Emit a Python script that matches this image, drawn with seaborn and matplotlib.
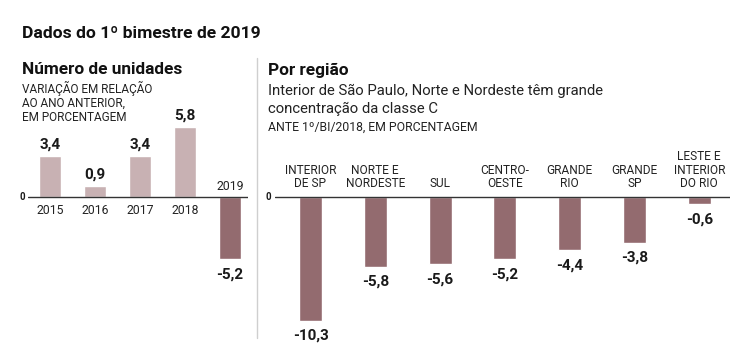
import matplotlib
matplotlib.use("Agg")
import matplotlib.pyplot as plt
import seaborn as sns
import pandas as pd

# ---------------- data ----------------
years = ["2015", "2016", "2017", "2018", "2019"]
year_values = [3.4, 0.9, 3.4, 5.8, -5.2]

regions = ["INTERIOR\nDE SP", "NORTE E\nNORDESTE", "SUL", "CENTRO-\nOESTE",
           "GRANDE\nRIO", "GRANDE\nSP", "LESTE E\nINTERIOR\nDO RIO"]
region_values = [-10.3, -5.8, -5.6, -5.2, -4.4, -3.8, -0.6]

title = "Dados do 1º bimestre de 2019"
left_title = "Número de unidades"
left_sub = "VARIAÇÃO EM RELAÇÃO\nAO ANO ANTERIOR,\nEM PORCENTAGEM"
right_title = "Por região"
right_desc = "Interior de São Paulo, Norte e Nordeste têm grande\nconcentração da classe C"
right_sub = "ANTE 1º/BI/2018, EM PORCENTAGEM"

LIGHT = "#c8b1b3"
DARK = "#936b6f"
INK = "#1a1a1a"

sns.set_theme(style="white")
plt.rcParams["font.family"] = ["Roboto", "DejaVu Sans"]
NARROW = ["Liberation Sans Narrow", "Roboto", "DejaVu Sans"]

W, H = 741, 348
fig = plt.figure(figsize=(W / 100, H / 100), dpi=100)

def fx(px):
    return px / W

def fy(py):
    return 1 - py / H

def fmt(v):
    return f"{v:.1f}".replace(".", ",")

# axes vertical extent (px)
ax_top, ax_bot = 100, 290
zero_px = 197
ppu = 12.0  # pixels per unit
ymax = (zero_px - ax_top) / ppu
ymin = -(ax_bot - zero_px) / ppu

VAL_FS = 11
# ---------------- left panel ----------------
lx0, lx1 = 28, 248
axL = fig.add_axes([fx(lx0), fy(ax_bot), fx(lx1 - lx0), (ax_bot - ax_top) / H])
dfL = pd.DataFrame({"year": years, "value": year_values})
dfL["color"] = [LIGHT if v >= 0 else DARK for v in year_values]
sns.barplot(data=dfL, x="year", y="value", hue="year",
            palette=dict(zip(dfL["year"], dfL["color"])),
            legend=False, ax=axL, width=0.49, saturation=1)
step = 45
axL.set_xlim((lx0 - 50) / step, (lx1 - 50) / step)
axL.set_ylim(ymin, ymax)
axL.axhline(0, color="#333333", lw=1.0)
for i, (y, v) in enumerate(zip(years, year_values)):
    if v >= 0:
        axL.annotate(fmt(v), (i, v), xytext=(0, 3.2), textcoords="offset points",
                     ha="center", va="bottom", fontsize=VAL_FS, fontweight="bold", color=INK)
        axL.annotate(y, (i, 0), xytext=(0, -5), textcoords="offset points",
                     ha="center", va="top", fontsize=8.8, color="#222222", family=NARROW)
    else:
        axL.annotate(fmt(v), (i, v), xytext=(0, -6), textcoords="offset points",
                     ha="center", va="top", fontsize=VAL_FS, fontweight="bold", color=INK)
        axL.annotate(y, (i, 0), xytext=(0, 3), textcoords="offset points",
                     ha="center", va="bottom", fontsize=8.8, color="#222222", family=NARROW)
axL.axis("off")
fig.text(fx(25), fy(zero_px), "0", ha="right", va="center", fontsize=7, fontweight="bold", color=INK)

# ---------------- right panel ----------------
rx0, rx1 = 275, 730
extra = 4
axR = fig.add_axes([fx(rx0), fy(ax_bot + extra * ppu), fx(rx1 - rx0),
                    (ax_bot + extra * ppu - ax_top) / H])
dfR = pd.DataFrame({"region": regions, "value": region_values})
sns.barplot(data=dfR, x="region", y="value", color=DARK, ax=axR,
            width=23 / 64.8, saturation=1)
rstep = 64.8
axR.set_xlim((rx0 - 310.5) / rstep, (rx1 - 310.5) / rstep)
axR.set_ylim(ymin - extra, ymax)
axR.axhline(0, color="#333333", lw=1.0)
for i, (r, v) in enumerate(zip(regions, region_values)):
    axR.annotate(fmt(v), (i, v), xytext=(0, -6), textcoords="offset points",
                 ha="center", va="top", fontsize=VAL_FS, fontweight="bold", color=INK)
    axR.annotate(r, (i, 0), xytext=(0, 5), textcoords="offset points",
                 ha="center", va="bottom", fontsize=8.6, color="#222222",
                 family=NARROW, linespacing=1.05)
axR.axis("off")
fig.text(fx(271), fy(zero_px), "0", ha="right", va="center", fontsize=7, fontweight="bold", color=INK)

# ---------------- separator ----------------
fig.add_artist(plt.Line2D([fx(257), fx(257)], [fy(58), fy(338)], color="#cfcfcf", lw=1.0))

# ---------------- texts ----------------
fig.text(fx(22), fy(33), title, ha="left", va="center", fontsize=12.6, fontweight="bold", color="#111111")
fig.text(fx(22), fy(70), left_title, ha="left", va="center", fontsize=12.4, fontweight="bold", color="#111111")
fig.text(fx(22), fy(81), left_sub, ha="left", va="top", fontsize=8.5, color="#222222",
         family=NARROW, linespacing=1.1)
fig.text(fx(268), fy(70), right_title, ha="left", va="center", fontsize=12.4, fontweight="bold", color="#111111")
fig.text(fx(268), fy(84), right_desc, ha="left", va="top", fontsize=10.7, color="#222222",
         linespacing=1.35)
fig.text(fx(268), fy(127), right_sub, ha="left", va="center", fontsize=8.8, color="#222222",
         family=NARROW)

fig.savefig("out.png", dpi=100, facecolor="white")
